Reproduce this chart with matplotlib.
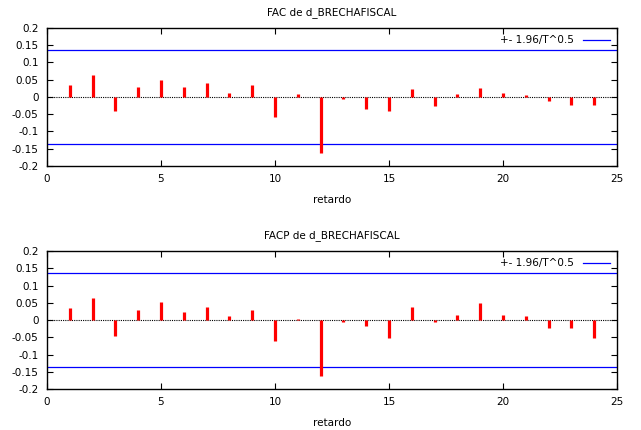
import matplotlib
matplotlib.use("Agg")
import matplotlib.pyplot as plt
import numpy as np

plt.rcParams['font.family'] = ['DejaVu Sans']
plt.rcParams['font.size'] = 7.5

lags = list(range(1, 25))
fac = [0.034, 0.064, -0.042, 0.030, 0.049, 0.030, 0.041, 0.013, 0.034, -0.058,
       0.008, -0.163, -0.006, -0.034, -0.041, 0.023, -0.026, 0.008, 0.025, 0.012,
       0.005, -0.011, -0.022, -0.022]
facp = [0.034, 0.0625, -0.046, 0.029, 0.052, 0.022, 0.037, 0.0125, 0.029, -0.0615,
        0.003, -0.1625, -0.006, -0.018, -0.051, 0.0375, -0.006, 0.0135, 0.048, 0.0155,
        0.0125, -0.023, -0.023, -0.052]
band = 0.1365
titles = ["FAC de d_BRECHAFISCAL", "FACP de d_BRECHAFISCAL"]

fig = plt.figure(figsize=(6.41, 4.30), dpi=100)
ax1 = fig.add_axes([0.0733, 0.614, 0.8893, 0.3209])
ax2 = fig.add_axes([0.0733, 0.0953, 0.8893, 0.3209])

for ax, vals, title in zip([ax1, ax2], [fac, facp], titles):
    ax.axhline(0, color='black', linestyle=(0, (1, 1)), linewidth=0.8, zorder=1)
    ax.vlines(lags, 0, vals, color='red', linewidth=2.3, zorder=3)
    ax.axhline(band, color='blue', linewidth=0.9, label='+- 1.96/T^0.5', zorder=2)
    ax.axhline(-band, color='blue', linewidth=0.9, zorder=2)
    ax.set_xlim(0, 25)
    ax.set_ylim(-0.2, 0.2)
    ax.set_xticks(range(0, 26, 5))
    ax.set_yticks(np.arange(-0.2, 0.21, 0.05))
    ax.set_yticklabels(['-0.2', '-0.15', '-0.1', '-0.05', '0', '0.05', '0.1', '0.15', '0.2'])
    ax.tick_params(direction='in', top=True, right=True, length=4, width=0.8, pad=6)
    for s in ax.spines.values():
        s.set_linewidth(1.0)
    ax.set_title(title, fontsize=7.5, pad=9)
    ax.set_xlabel('retardo', fontsize=7.5, labelpad=8)
    ax.legend(loc='upper right', frameon=False, markerfirst=False,
              handlelength=2.6, fontsize=7.5, borderaxespad=0.3)

fig.savefig('out.png', dpi=100)
